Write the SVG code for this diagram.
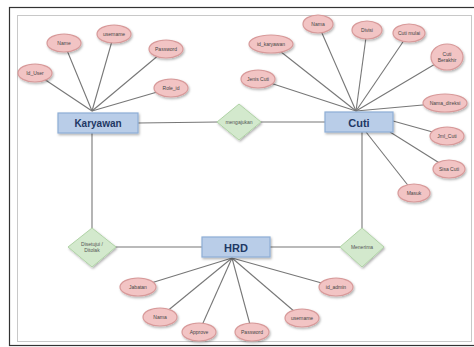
<svg xmlns="http://www.w3.org/2000/svg" width="474" height="347" viewBox="0 0 474 347">
<defs>
<filter id="sh" x="-30%" y="-30%" width="160%" height="170%">
<feDropShadow dx="1" dy="1.5" stdDeviation="1" flood-color="#000" flood-opacity="0.3"/>
</filter>
<style>
.attr ellipse{fill:#f2c4c4;stroke:#d89a9a;stroke-width:1.2;filter:url(#sh)}
.attr text{font-family:"Liberation Sans",Arial,sans-serif;font-size:5px;fill:#444;text-anchor:middle;dominant-baseline:central}
.ent rect{fill:#b9cde8;stroke:#8eaed6;stroke-width:1.2;filter:url(#sh)}
.ent text{font-family:"Liberation Sans",Arial,sans-serif;font-weight:bold;fill:#1f3864;text-anchor:middle;dominant-baseline:central}
.rel polygon{fill:#d3e9cd;stroke:#b0d3a6;stroke-width:1;filter:url(#sh)}
.rel text{font-family:"Liberation Sans",Arial,sans-serif;font-size:5px;fill:#555;text-anchor:middle;dominant-baseline:central}
.conn line{stroke:#777;stroke-width:1.1}
</style>
</defs>
<rect x="0" y="0" width="474" height="347" fill="#fff"/>
<rect x="9.5" y="7.5" width="470" height="338" fill="#fff" stroke="#333" stroke-width="1.2"/>
<rect x="17.5" y="15.5" width="454" height="326" fill="#fff" stroke="#c8c8c8" stroke-width="1"/>

<g id="connectors" class="conn">
<line x1="138" y1="123" x2="218" y2="122"/>
<line x1="260" y1="122" x2="325" y2="122"/>
<line x1="92" y1="133" x2="92" y2="228"/>
<line x1="115" y1="247" x2="202" y2="247"/>
<line x1="270" y1="247" x2="340" y2="247"/>
<line x1="362" y1="228" x2="362" y2="132"/>
<line x1="92" y1="111" x2="35" y2="73"/>
<line x1="92" y1="111" x2="64" y2="43"/>
<line x1="92" y1="111" x2="114" y2="34"/>
<line x1="92" y1="111" x2="166" y2="49"/>
<line x1="92" y1="111" x2="171" y2="88"/>
<line x1="356" y1="111" x2="271" y2="44"/>
<line x1="356" y1="111" x2="318" y2="24"/>
<line x1="356" y1="111" x2="367" y2="30"/>
<line x1="356" y1="111" x2="409" y2="33"/>
<line x1="356" y1="111" x2="447" y2="57"/>
<line x1="356" y1="111" x2="258" y2="79"/>
<line x1="356" y1="111" x2="445" y2="103"/>
<line x1="393" y1="121" x2="447" y2="136"/>
<line x1="390" y1="132" x2="449" y2="169"/>
<line x1="366" y1="132" x2="414" y2="193"/>
<line x1="232" y1="258" x2="138" y2="287"/>
<line x1="232" y1="258" x2="160" y2="317"/>
<line x1="232" y1="258" x2="199" y2="332"/>
<line x1="232" y1="258" x2="252" y2="332"/>
<line x1="232" y1="258" x2="302" y2="318"/>
<line x1="232" y1="258" x2="336" y2="287"/>
</g>

<g id="rel-mengajukan" class="rel"><polygon points="239,104 261,122 239,140 217,122"/><text x="239" y="122">mengajukan</text></g>
<g id="rel-disetujui" class="rel"><polygon points="92,228 116,247 92,267 68,247"/><text x="92" y="244">Disetujui /</text><text x="92" y="250">Ditolak</text></g>
<g id="rel-menerima" class="rel"><polygon points="362,228 384,247 362,267 340,247"/><text x="362" y="247">Menerima</text></g>

<g id="ent-karyawan" class="ent"><rect x="58" y="113" width="80" height="20"/><text x="98" y="123.5" font-size="10">Karyawan</text></g>
<g id="ent-cuti" class="ent"><rect x="325" y="112" width="68" height="20"/><text x="359" y="122.5" font-size="11">Cuti</text></g>
<g id="ent-hrd" class="ent"><rect x="202" y="237" width="68" height="20"/><text x="236" y="247.5" font-size="11">HRD</text></g>

<g id="a-id_user" class="attr"><ellipse cx="35" cy="73" rx="17" ry="9"/><text x="35" y="73">Id_User</text></g>
<g id="a-name" class="attr"><ellipse cx="64" cy="43" rx="17" ry="9"/><text x="64" y="43">Name</text></g>
<g id="a-username-k" class="attr"><ellipse cx="114" cy="34" rx="17" ry="9"/><text x="114" y="34">username</text></g>
<g id="a-password-k" class="attr"><ellipse cx="166" cy="49" rx="17" ry="9"/><text x="166" y="49">Password</text></g>
<g id="a-role_id" class="attr"><ellipse cx="171" cy="88" rx="17" ry="9"/><text x="171" y="88">Role_id</text></g>

<g id="a-id_karyawan" class="attr"><ellipse cx="271" cy="44" rx="22" ry="9"/><text x="271" y="44">id_karyawan</text></g>
<g id="a-nama-c" class="attr"><ellipse cx="318" cy="24" rx="15" ry="9"/><text x="318" y="24">Nama</text></g>
<g id="a-divisi" class="attr"><ellipse cx="367" cy="30" rx="15" ry="9"/><text x="367" y="30">Divisi</text></g>
<g id="a-cuti_mulai" class="attr"><ellipse cx="409" cy="33" rx="16" ry="9"/><text x="409" y="33">Cuti mulai</text></g>
<g id="a-cuti_berakhir" class="attr"><ellipse cx="447" cy="57" rx="16" ry="13"/><text x="447" y="54">Cuti</text><text x="447" y="60">Berakhir</text></g>
<g id="a-jenis_cuti" class="attr"><ellipse cx="258" cy="79" rx="17" ry="9"/><text x="258" y="79">Jenis Cuti</text></g>
<g id="a-nama_direksi" class="attr"><ellipse cx="445" cy="103" rx="22" ry="9"/><text x="445" y="103">Nama_direksi</text></g>
<g id="a-jml_cuti" class="attr"><ellipse cx="447" cy="136" rx="17" ry="9"/><text x="447" y="136">Jml_Cuti</text></g>
<g id="a-sisa_cuti" class="attr"><ellipse cx="449" cy="169" rx="16" ry="9"/><text x="449" y="169">Sisa Cuti</text></g>
<g id="a-masuk" class="attr"><ellipse cx="414" cy="193" rx="16" ry="9"/><text x="414" y="193">Masuk</text></g>

<g id="a-jabatan" class="attr"><ellipse cx="138" cy="287" rx="18" ry="9"/><text x="138" y="287">Jabatan</text></g>
<g id="a-nama-h" class="attr"><ellipse cx="160" cy="317" rx="17" ry="9"/><text x="160" y="317">Nama</text></g>
<g id="a-approve" class="attr"><ellipse cx="199" cy="332" rx="17" ry="9"/><text x="199" y="332">Approve</text></g>
<g id="a-password-h" class="attr"><ellipse cx="252" cy="332" rx="17" ry="9"/><text x="252" y="332">Password</text></g>
<g id="a-username-h" class="attr"><ellipse cx="302" cy="318" rx="17" ry="9"/><text x="302" y="318">username</text></g>
<g id="a-id_admin" class="attr"><ellipse cx="336" cy="287" rx="17" ry="9"/><text x="336" y="287">id_admin</text></g>
</svg>
